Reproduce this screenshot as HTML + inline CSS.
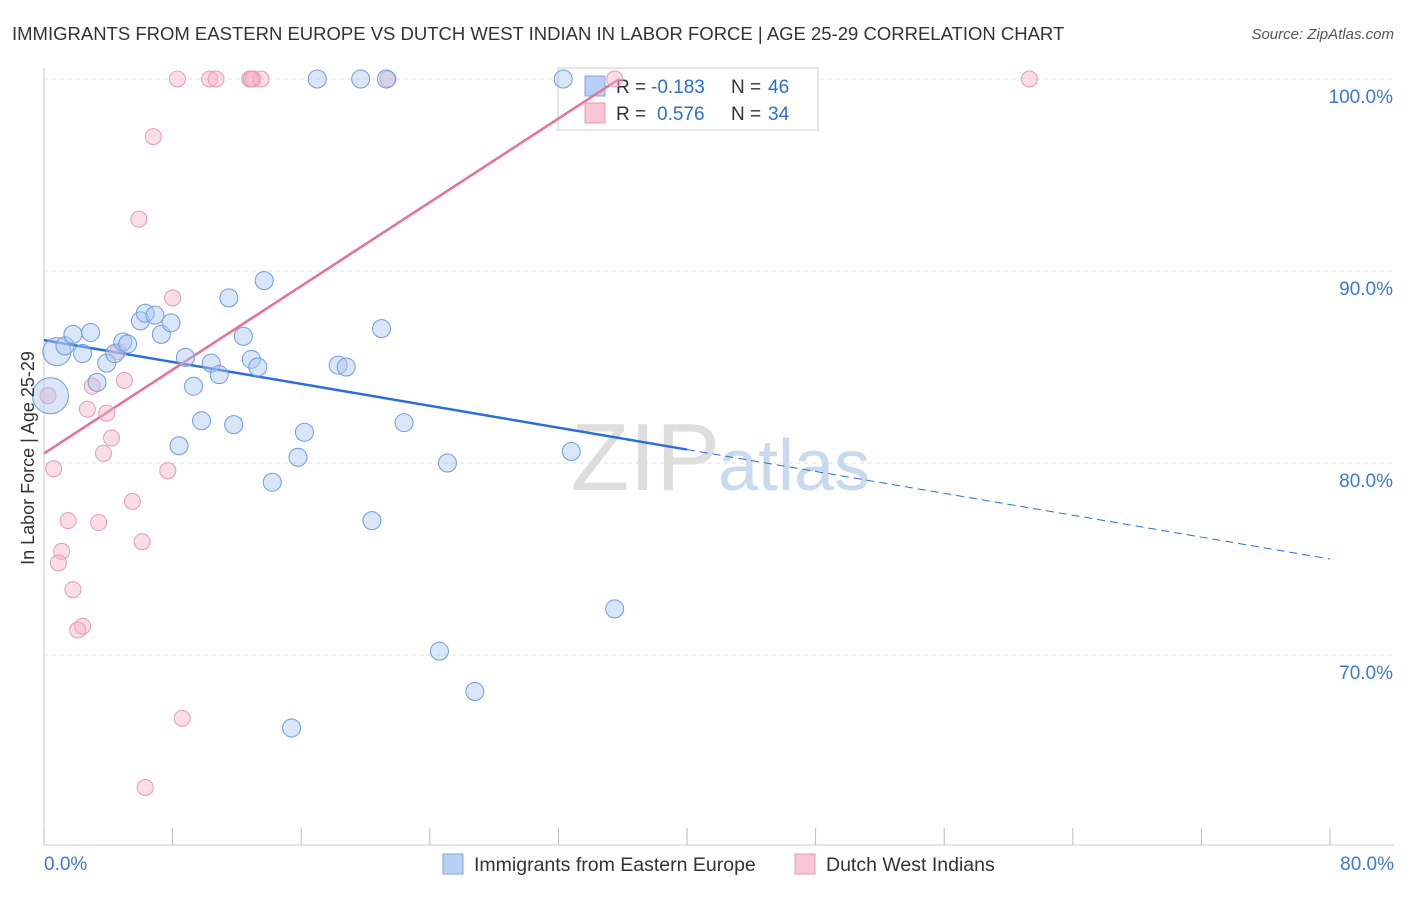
<!DOCTYPE html>
<html><head><meta charset="utf-8"><style>
body{margin:0;background:#fff;font-family:"Liberation Sans",sans-serif}
svg text{font-family:"Liberation Sans",sans-serif}
</style></head><body>
<svg id="c" width="1406" height="892" viewBox="0 0 1406 892">
<text x="12" y="40" font-size="18.5" fill="#333">IMMIGRANTS FROM EASTERN EUROPE VS DUTCH WEST INDIAN IN LABOR FORCE | AGE 25-29 CORRELATION CHART</text>
<text x="1394" y="39" font-size="15" fill="#555" font-style="italic" text-anchor="end">Source: ZipAtlas.com</text>
<text x="720" y="490" font-size="96" fill="#ddd" text-anchor="end" font-family="Liberation Serif">ZIP</text>
<text x="718" y="490" font-size="72" fill="#c9d9ee">atlas</text>
<g id="grid"></g><g id="axes"></g>
<g>
<rect x="558" y="68" width="260" height="62" fill="#fff" stroke="#ccc"/>
<rect x="585" y="76" width="20" height="20" fill="#b9d0f5" stroke="#7fa6e0"/>
<rect x="585" y="103" width="20" height="20" fill="#f8c6d6" stroke="#e89ab3"/>
<text x="616" y="93" font-size="19" fill="#333">R =</text>
<text x="651" y="93" font-size="19" fill="#2b6fd0">-0.183</text>
<text x="731" y="93" font-size="19" fill="#333">N =</text>
<text x="768" y="93" font-size="19" fill="#2b6fd0">46</text>
<text x="616" y="120" font-size="19" fill="#333">R =</text>
<text x="657" y="120" font-size="19" fill="#2b6fd0">0.576</text>
<text x="731" y="120" font-size="19" fill="#333">N =</text>
<text x="768" y="120" font-size="19" fill="#2b6fd0">34</text>
</g>
<g id="lines"></g><g id="pts"></g>
<text transform="translate(34,458) rotate(-90)" font-size="18" fill="#333" text-anchor="middle">In Labor Force | Age 25-29</text>
<g>
<rect x="443" y="854" width="20" height="20" fill="#b9d0f5" stroke="#7fa6e0"/>
<text x="474" y="871" font-size="19.5" fill="#333">Immigrants from Eastern Europe</text>
<rect x="795" y="854" width="20" height="20" fill="#f8c6d6" stroke="#e89ab3"/>
<text x="826" y="871" font-size="19.5" fill="#333">Dutch West Indians</text>
</g>
</svg>
<script>
const blueX=[32.3,17.0,19.7,21.3,0.4,0.8,1.3,1.8,2.9,2.4,3.3,3.9,4.4,4.9,5.2,6.0,6.3,6.9,7.3,7.9,8.8,9.3,8.4,9.8,10.4,10.9,11.5,11.8,12.4,12.9,13.3,13.7,14.2,15.8,16.2,15.4,18.3,18.8,21.0,20.4,22.4,25.1,24.6,26.8,32.8,35.5];
const blueY=[100,100,100,100,83.5,85.8,86.1,86.7,86.8,85.7,84.2,85.2,85.7,86.3,86.2,87.4,87.8,87.7,86.7,87.3,85.5,84.0,80.9,82.2,85.2,84.6,88.6,82.0,86.6,85.4,85.0,89.5,79.0,80.3,81.6,66.2,85.1,85.0,87.0,77.0,82.1,80.0,70.2,68.1,80.6,72.4];
const blueR=[9,9,9,9,18,14,9,9,9,9,9,9,9,9,9,9,9,9,9,9,9,9,9,9,9,9,9,9,9,9,9,9,9,9,9,9,9,9,9,9,9,9,9,9,9,9];
const pinkX=[8.3,10.3,10.7,12.8,13.0,13.5,21.4,61.3,35.5,6.8,5.9,8.0,0.25,0.6,2.7,3.0,3.9,4.2,3.7,5.0,4.6,5.5,6.1,7.7,1.5,3.4,1.1,0.9,1.8,2.4,2.1,8.6,6.3,12.9];
const pinkY=[100,100,100,100,100,100,100,100,100,97.0,92.7,88.6,83.5,79.7,82.8,84.0,82.6,81.3,80.5,84.3,85.8,78.0,75.9,79.6,77.0,76.9,75.4,74.8,73.4,71.5,71.3,66.7,63.1,100];
const blueTrend=[86.4,75.0]; // y at x=0 and x=80
const pinkTrend=[80.5,0.545]; // intercept, slope
const yTicks=[100,90,80,70];
const xTicks=[0,8,16,24,32,40,48,56,64,72,80];
const NS='http://www.w3.org/2000/svg';
const sx=v=>44+v*16.075, sy=v=>79+(100-v)*19.2;
function mk(t,a,p){const e=document.createElementNS(NS,t);for(const k in a)e.setAttribute(k,a[k]);p.appendChild(e);return e;}
const grid=document.getElementById('grid'),axes=document.getElementById('axes'),lines=document.getElementById('lines'),pts=document.getElementById('pts');
yTicks.forEach(v=>{
 const l=mk('line',{x1:44,x2:1394,y1:sy(v),y2:sy(v),stroke:'#ddd','stroke-dasharray':'4,4'},grid);
 
 
 const t=mk('text',{x:1393,y:sy(v)+24,'font-size':19,fill:'#3c78d8','text-anchor':'end'},axes);t.textContent=v.toFixed(1)+'%';
 
 
});
const xa=mk('line',{x1:44,x2:1394,y1:845,y2:845,stroke:'#ccc'},axes);


const ya=mk('line',{x1:44,x2:44,y1:68,y2:845,stroke:'#ccc'},axes);


xTicks.forEach(v=>{const l=mk('line',{x1:sx(v),x2:sx(v),y1:828,y2:845,stroke:'#bbb'},axes);
 
 });
[[0,'start',44],[80,'end',1394]].forEach(([v,a,x])=>{const t=mk('text',{x:x,y:870,'font-size':19,fill:'#3c78d8','text-anchor':a},axes);t.textContent=v.toFixed(1)+'%';
 
 });
pinkX.forEach((x,i)=>{const c=mk('circle',{cx:sx(x),cy:sy(pinkY[i]),r:8,fill:'rgba(246,180,200,0.45)',stroke:'#e89ab3','stroke-width':1},pts);
 
 });
blueX.forEach((x,i)=>{const c=mk('circle',{cx:sx(x),cy:sy(blueY[i]),r:blueR[i],fill:'rgba(170,198,240,0.45)',stroke:'#6d9ce0','stroke-width':1},pts);
 
 });
const bAt=x=>blueTrend[0]+(blueTrend[1]-blueTrend[0])*x/80;
const b1=mk('line',{x1:sx(0),y1:sy(bAt(0)),x2:sx(40),y2:sy(bAt(40)),stroke:'#2a6fd6','stroke-width':2.5},lines);


const b2=mk('line',{x1:sx(40),y1:sy(bAt(40)),x2:sx(80),y2:sy(bAt(80)),stroke:'#2a6fd6','stroke-width':1,'stroke-dasharray':'8,5'},lines);


const pEnd=(100-pinkTrend[0])/pinkTrend[1];
const p1=mk('line',{x1:sx(0),y1:sy(pinkTrend[0]),x2:sx(pEnd),y2:sy(100),stroke:'#e8709a','stroke-width':2.5},lines);


</script>
</body></html>
